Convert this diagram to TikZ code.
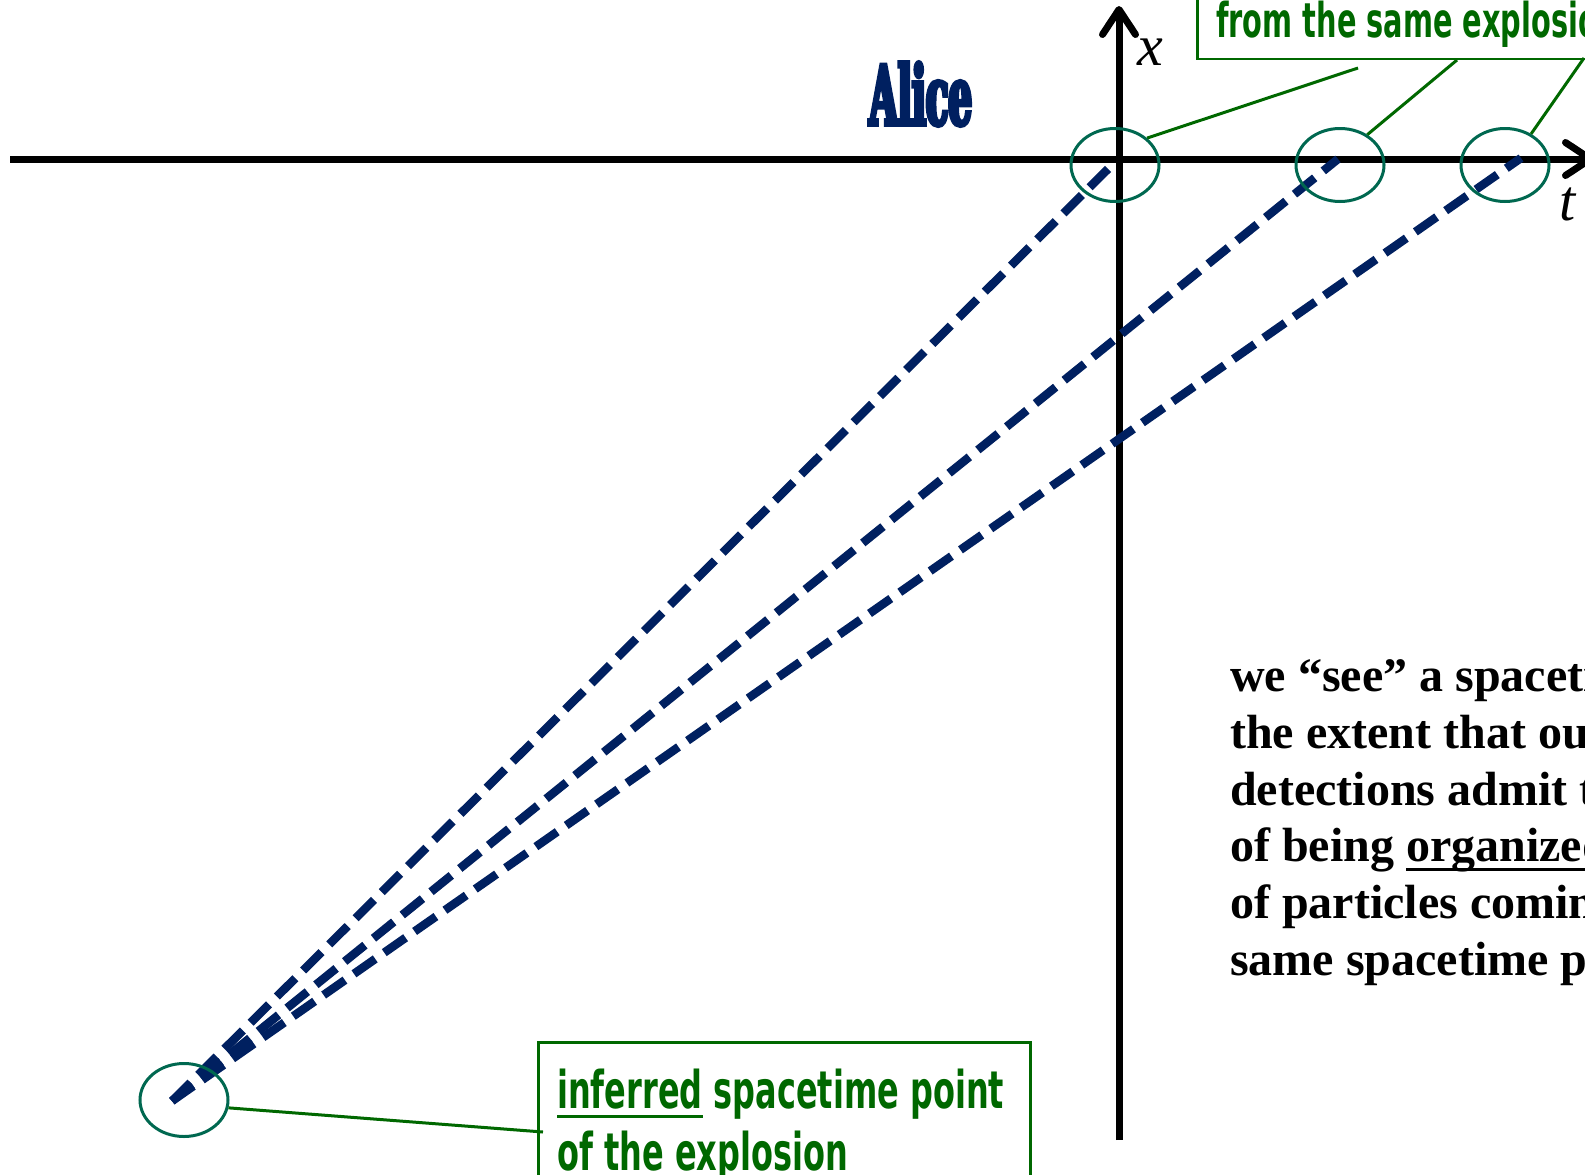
\documentclass[tikz,border=0pt]{standalone}
\usepackage{fontspec}
\usetikzlibrary{arrows.meta,shapes.geometric}
\setmainfont{Liberation Serif}
\newfontfamily\alicefont[FakeStretch=0.445,FakeBold=4.5]{DejaVu Serif}
\newfontfamily\agencyfontA[FakeStretch=0.60]{DejaVu Sans}
\newfontfamily\agencyfontB[FakeStretch=0.615]{DejaVu Sans}
\definecolor{navy}{RGB}{0,32,96}
\definecolor{lgreen}{RGB}{0,104,0}
\definecolor{tealring}{RGB}{0,104,80}
\newcommand{\myul}[1]{\setbox0\hbox{#1}\rlap{\rule[-9.5pt]{\wd0}{3pt}}\box0\relax}
\tikzset{
  axis/.style={line width=7pt,-{Straight Barb[length=25pt,width=33pt,line cap=round,line join=round]}},
  ring/.style={draw=tealring,line width=3pt,ellipse,minimum width=88pt,minimum height=73pt,inner sep=0pt},
  ray/.style={draw=navy,line width=8.5pt,dash pattern=on 26pt off 11pt},
  conn/.style={draw=lgreen,line width=3pt},
  gbox/.style={draw=lgreen,line width=2.5pt,rectangle,inner sep=0pt},
  gtext/.style={text=lgreen,inner sep=0pt,anchor=base west},
  btext/.style={text=black,inner sep=0pt,anchor=base west,font=\bfseries\fontsize{48}{56}\selectfont},
  axlabel/.style={inner sep=0pt,anchor=base west,font=\itshape\fontsize{58}{58}\selectfont}
}
\begin{document}
\begin{tikzpicture}[x=1pt,y=-1pt]
\useasboundingbox (0,0) rectangle (1585,1175);
\clip (0,0) rectangle (1585,1175);
\fill[white] (0,0) rectangle (1585,1175);

% axes
\coordinate (hL) at (10,159);
\coordinate (hR) at (1594,159);
\coordinate (vB) at (1119,1140);
\coordinate (vT) at (1119,6);
\draw[axis] (hL) -- (hR);
\draw[axis] (vB) -- (vT);
\node[axlabel] (xlab) at (1137,65) {x};
\node[axlabel] (tlab) at (1559,220) {t};

% Alice
\node[inner sep=0pt,anchor=base west,text=navy,font=\alicefont\bfseries\fontsize{83}{83}\selectfont] (alice) at (869,125) {Alice};

% rays
\coordinate (o) at (172,1101);
\coordinate (p1) at (1112,165);
\coordinate (p2) at (1338,159);
\coordinate (p3) at (1521,158);
\draw[ray] (o) -- (p1);
\draw[ray] (o) -- (p2);
\draw[ray] (o) -- (p3);

% rings
\node[ring] (e1) at (1115,165) {};
\node[ring] (e2) at (1340,165) {};
\node[ring] (e3) at (1505,165) {};
\node[ring] (e4) at (184,1100) {};

% top box
\node[gbox,anchor=south west,minimum width=420pt,minimum height=100pt] (b1) at (1196,60) {};
\node[gtext,font=\agencyfontA\bfseries\fontsize{48}{48}\selectfont] (t1) at (1216,37) {from the same explosion};
\coordinate (c1) at (1358,68);
\coordinate (c2) at (1457,60);
\coordinate (c3) at (1584,58);
\draw[conn] (e1.40) -- (c1);
\draw[conn] (e2.48) -- (c2);
\draw[conn] (e3.50) -- (c3);

% bottom box
\node[gbox,anchor=north west,minimum width=492pt,minimum height=160pt] (b2) at (537,1041) {};
\node[gtext,font=\agencyfontB\bfseries\fontsize{52}{52}\selectfont] (t2) at (557,1108) {\myul{inferred} spacetime point};
\node[gtext,font=\agencyfontB\bfseries\fontsize{52}{52}\selectfont] (t3) at (557,1170) {of the explosion};
\coordinate (c4) at (543,1132);
\draw[conn] (e4.-10) -- (c4);

% black text
\node[btext] (l1) at (1230,691.7) {we “see” a spacetime};
\node[btext] (l2) at (1230,748.4) {the extent that our};
\node[btext] (l3) at (1230,805) {detections admit the};
\node[btext] (l4) at (1230,861.7) {of being \myul{organized}};
\node[btext] (l5) at (1230,918.4) {of particles coming};
\node[btext] (l6) at (1230,975) {same spacetime point};
\end{tikzpicture}
\end{document}
